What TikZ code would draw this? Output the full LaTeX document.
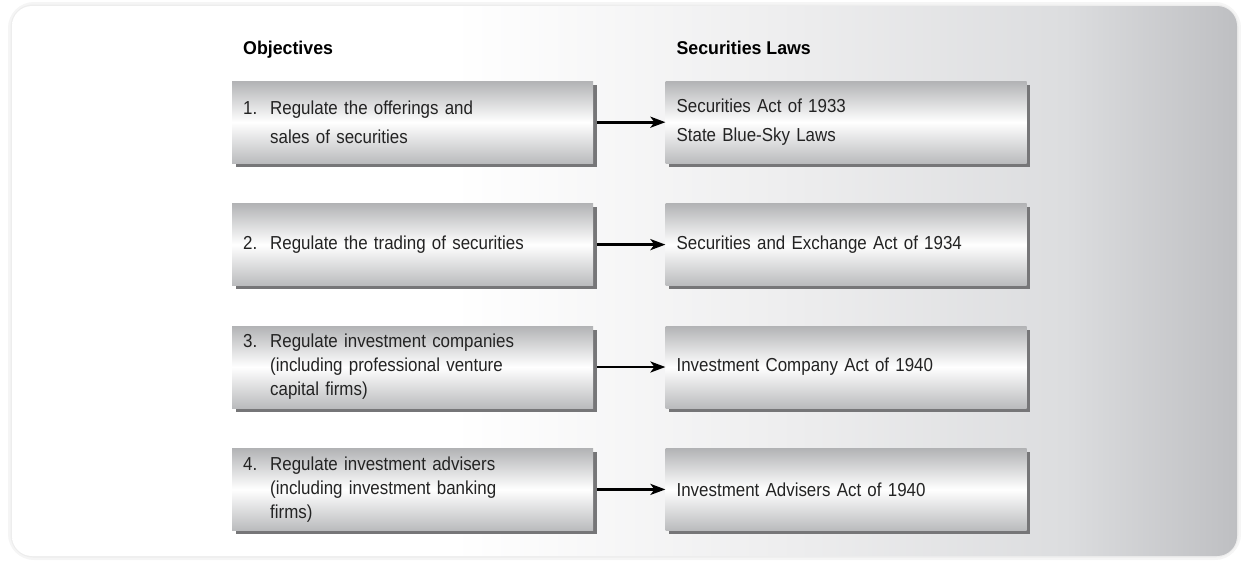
\documentclass[tikz,border=0pt]{standalone}
\usepackage{fontspec}
\setmainfont{Liberation Sans}[FakeStretch=0.9]
\newfontfamily\headfont{Liberation Sans}[FakeStretch=0.96]
\usepackage{xcolor}
\usepackage{tikz}
\usetikzlibrary{positioning,shadows,arrows.meta}

\definecolor{panelmid}{RGB}{237,237,238}
\definecolor{paneldeep}{RGB}{220,221,223}
\definecolor{panelgray}{RGB}{190,191,194}
\definecolor{boxtop}{RGB}{178,179,181}
\definecolor{boxbot}{RGB}{186,187,189}
\definecolor{boxshadow}{RGB}{118,118,120}
\definecolor{ink}{RGB}{35,35,35}

% background and box fills
\pgfdeclarehorizontalshading{panelshade}{100bp}{color(0bp)=(white); color(43bp)=(white); color(57bp)=(panelmid); color(68bp)=(paneldeep); color(75bp)=(panelgray); color(100bp)=(panelgray)}
\pgfdeclareverticalshading{boxshade}{100bp}{color(0bp)=(boxbot); color(25bp)=(boxbot); color(50bp)=(white); color(75bp)=(boxtop); color(100bp)=(boxtop)}

\newcommand{\numpad}{\hspace*{27pt}}

\begin{document}
\begin{tikzpicture}[x=1pt, y=-1pt,
    box/.style={anchor=north west, shading=boxshade, minimum width=361pt, minimum height=82pt,
        text width=339pt, inner xsep=11pt, inner ysep=0pt, align=left, text=ink,
        font=\fontsize{18.8}{24}\selectfont,
        drop shadow={shadow xshift=3.5pt, shadow yshift=-3.5pt, fill=boxshadow, opacity=1}},
    wide/.style={font=\fontsize{18.8}{28.5}\selectfont},
    heading/.style={anchor=base west, inner sep=0pt, text=black, font=\headfont\bfseries\fontsize{18.5}{22}\selectfont},
    link/.style={-{Stealth[length=15pt, width=11pt, inset=4pt]}, line width=2.6pt, black}]

    \useasboundingbox (0,0) rectangle (1241,563);

    % panel with a soft edge
    \draw[black!4, line width=8pt, rounded corners=22pt] (12,6) rectangle (1237,556);
    \draw[black!7, line width=3pt, rounded corners=21pt] (12,6) rectangle (1237,556);
    \shade[shading=panelshade, rounded corners=20pt] (12,6) rectangle (1237,556);

    % objectives
    \node[box, wide] (obj1) at (232,81) {\makebox[27pt][l]{1.}Regulate the offerings and\\\numpad sales of securities};
    \node[box, below=40pt of obj1] (obj2) {\makebox[27pt][l]{2.}Regulate the trading of securities};
    \node[box, below=40pt of obj2] (obj3) {\makebox[27pt][l]{3.}Regulate investment companies\\\numpad (including professional venture\\\numpad capital firms)};
    \node[box, below=40pt of obj3] (obj4) {\makebox[27pt][l]{4.}Regulate investment advisers\\\numpad (including investment banking\\\numpad firms)};

    % laws
    \node[box, wide, anchor=west, right=72pt of obj1] (law1) {Securities Act of 1933\\State Blue-Sky Laws};
    \node[box, anchor=west, right=72pt of obj2] (law2) {Securities and Exchange Act of 1934};
    \node[box, anchor=west, right=72pt of obj3] (law3) {Investment Company Act of 1940};
    \node[box, anchor=west, right=72pt of obj4] (law4) {Investment Advisers Act of 1940};

    \node[heading] (objhead) at ([xshift=11pt, yshift=27pt]obj1.north west) {Objectives};
    \node[heading] (lawhead) at ([xshift=11pt, yshift=27pt]law1.north west) {Securities Laws};

    \foreach \i in {1,...,4}
        \draw[link] ([xshift=3.5pt]obj\i.east) -- (law\i.west);
\end{tikzpicture}
\end{document}
